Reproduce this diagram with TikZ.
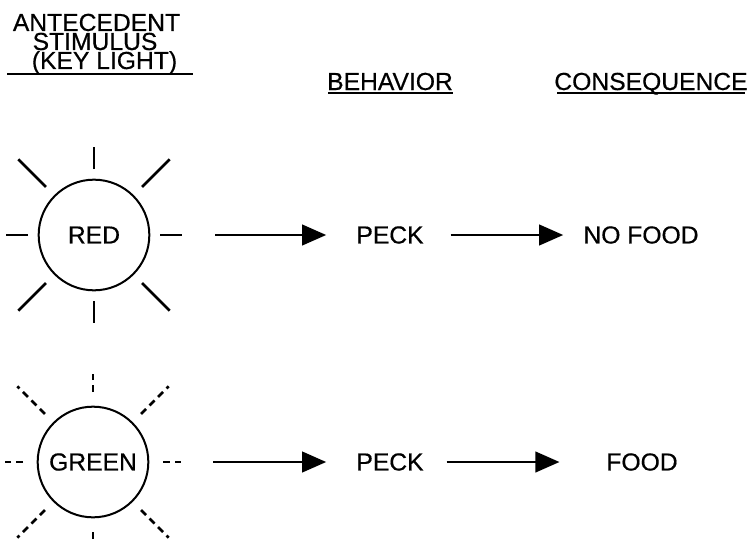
\documentclass[tikz,border=0pt]{standalone}
\usepackage{fontspec}
\setmainfont{Liberation Sans}[FakeBold=0.5]
\usetikzlibrary{arrows.meta,positioning}

\begin{document}
\begin{tikzpicture}[x=0.75pt,y=-0.75pt,on grid,
  font=\fontsize{18.5pt}{18.5pt}\selectfont,
  every node/.style={inner sep=0pt},
  light/.style={circle,draw,line width=1.5pt,minimum size=83pt},
  ray/.style={line width=2pt},
  dimray/.style={line width=2pt,dash pattern=on 5.25pt off 3.75pt},
  link/.style={-{Triangle[length=18pt,width=15.5pt]},line width=1.5pt},
  uline/.style={line width=1.2pt}]
\useasboundingbox (0,0) rectangle (748,542);

% headings
\node[anchor=base] (ante) at (96.5,31) {ANTECEDENT};
\node[anchor=base] (stim) at (95,50) {STIMULUS};
\node[anchor=base] (key) at (104.5,69) {(KEY LIGHT)};
\node[anchor=base] (beh) at (390,90) {BEHAVIOR};
\node[anchor=base] (cons) at (651,90) {CONSEQUENCE};
\draw[uline] (7,74) -- (193,74);
\draw[uline] (328,93) -- (453,93);
\draw[uline] (557,93) -- (745,93);

% rows
\node[light] (red) at (94,235) {RED};
\node (peck_1) [right=222pt of red] {PECK};
\node (nofood) [right=188.25pt of peck_1] {NO FOOD};

\node[light] (green) at (93,462) {GREEN};
\node (peck_2) [right=222.75pt of green] {PECK};
\node (food) [right=189pt of peck_2] {FOOD};

% rays round the key lights
\foreach \s/\st/\r in {red/ray/66,green/dimray/70}{
  \foreach \a in {0,90,180,270}
    \draw[\st] ([shift={(\a:\r)}]\s.center) -- ([shift={(\a:88)}]\s.center);
  \foreach \a in {45,135,225,315}
    \draw[\st] ([shift={(\a:68)}]\s.center) -- ([shift={(\a:107)}]\s.center);
}

\path[link]
  (red) edge[shorten <=48.75pt,shorten >=22.5pt] (peck_1)
  (peck_1) edge[shorten <=20pt,shorten >=15pt] (nofood)
  (green) edge[shorten <=48pt,shorten >=22.5pt] (peck_2)
  (peck_2) edge[shorten <=17pt,shorten >=35pt] (food)
  ;
\end{tikzpicture}
\end{document}
